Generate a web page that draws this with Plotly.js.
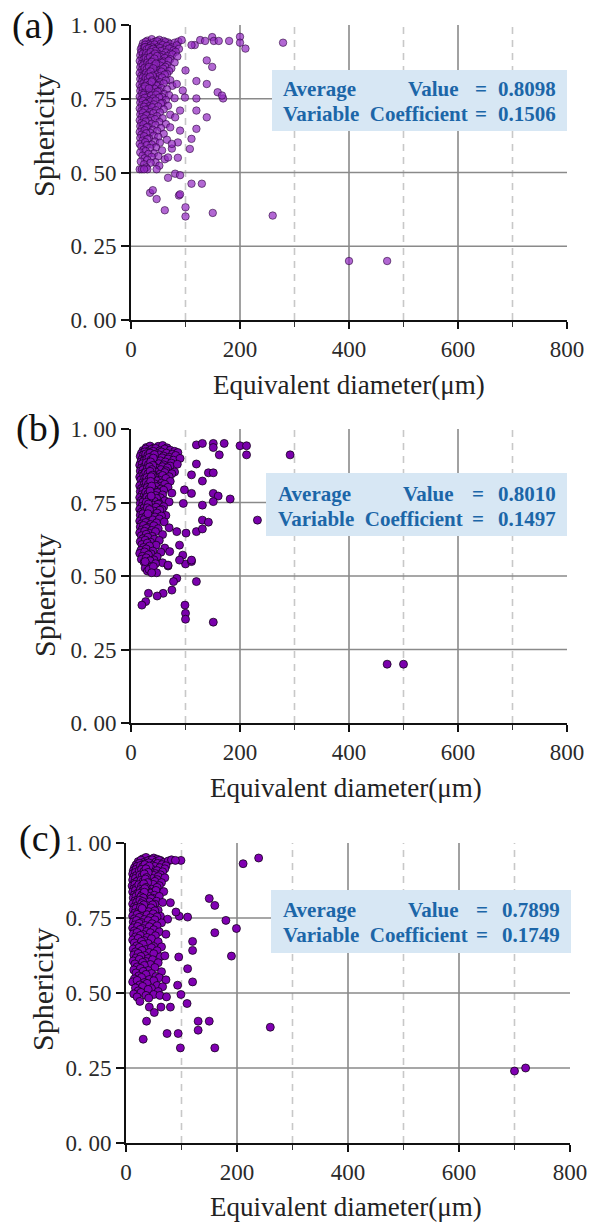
<!DOCTYPE html>
<html>
<head>
<meta charset="utf-8">
<script src="https://cdn.plot.ly/plotly-3.0.1.min.js"></script>
<style>html,body{margin:0;padding:0;background:#fff;}#chart{width:590px;height:1227px;}</style>
</head>
<body>
<div id="chart"></div>
<script>
// ---------------- DATA ----------------
const xTickVals = [0, 200, 400, 600, 800];
const xTickText = ["0", "200", "400", "600", "800"];
const yTickVals = [0, 0.25, 0.5, 0.75, 1.0];
const yTickText = ["0. 00", "0. 25", "0. 50", "0. 75", "1. 00"];
const panelLabels = ["(a)", "(b)", "(c)"];
const averageValues = ["0.8098", "0.8010", "0.7899"];
const variableCoefficients = ["0.1506", "0.1497", "0.1749"];

// Panel (a) dense cluster
const aClusterX = [
  30,38,45,52,60,68,
  22,27,33,41,48,55,63,72,80,87,
  20,26,31,36,43,50,58,66,75,84,
  18,24,29,34,39,46,53,61,70,78,88,
  19,25,30,36,42,47,55,64,73,82,
  17,22,28,33,38,44,50,58,67,76,85,
  20,26,31,37,41,48,54,62,72,
  16,23,29,34,40,45,52,60,69,80,
  19,25,31,36,43,50,57,66,
  17,22,28,35,39,46,54,63,74,
  20,26,32,38,44,51,59,70,
  16,23,29,35,41,48,56,66,
  19,25,31,37,44,52,62,
  17,22,28,34,40,47,57,72,
  20,26,32,38,45,53,64,
  16,23,29,36,42,50,60,76,
  19,25,31,39,47,56,
  17,22,28,34,43,52,66,
  20,26,32,40,49,61,
  16,23,30,37,46,57,70,
  19,25,33,41,52,64,80,
  17,22,29,36,45,58,
  20,27,34,42,55,68,
  16,24,31,39,50,
  19,26,35,46,60,
  17,22,30,41,53,72,
  20,28,37,48,
  16,24,33,44,58,
  19,27,38,52,
  17,23,31,45,64,
  20,29,40,55,
  16,25,35,48,
  19,28,42,60,
  17,24,33,50,
  21,30,44,66,
  16,26,38,53,
  19,29,46,
  23,35,57,75,
  17,27,42,
  21,32,50,
  25,38,62,
  18,30,45,
  24,36,
  28,52
];
const aClusterY = [
  0.947,0.952,0.944,0.950,0.946,0.941,
  0.938,0.943,0.936,0.941,0.945,0.937,0.942,0.935,0.940,0.944,
  0.927,0.933,0.925,0.931,0.934,0.926,0.932,0.929,0.924,0.931,
  0.918,0.923,0.915,0.921,0.924,0.917,0.922,0.916,0.920,0.914,0.919,
  0.908,0.913,0.905,0.911,0.914,0.906,0.912,0.907,0.903,0.909,
  0.897,0.903,0.895,0.901,0.904,0.896,0.902,0.898,0.894,0.900,0.893,
  0.887,0.893,0.885,0.891,0.894,0.886,0.892,0.888,0.884,
  0.878,0.883,0.875,0.881,0.884,0.877,0.882,0.876,0.879,0.873,
  0.868,0.873,0.865,0.871,0.874,0.866,0.872,0.864,
  0.857,0.863,0.855,0.861,0.864,0.856,0.862,0.858,0.853,
  0.848,0.853,0.845,0.851,0.854,0.846,0.852,0.844,
  0.837,0.843,0.835,0.841,0.844,0.836,0.842,0.834,
  0.828,0.833,0.825,0.831,0.834,0.826,0.832,
  0.817,0.823,0.815,0.821,0.824,0.816,0.822,0.813,
  0.808,0.813,0.805,0.811,0.814,0.806,0.812,
  0.797,0.803,0.795,0.801,0.804,0.796,0.802,0.794,
  0.788,0.793,0.785,0.791,0.794,0.786,
  0.777,0.783,0.775,0.781,0.784,0.776,0.782,
  0.768,0.773,0.765,0.771,0.774,0.766,
  0.757,0.763,0.755,0.761,0.764,0.756,0.762,
  0.748,0.753,0.745,0.751,0.754,0.746,0.752,
  0.737,0.743,0.735,0.741,0.744,0.736,
  0.728,0.733,0.725,0.731,0.734,0.726,
  0.717,0.723,0.715,0.721,0.724,
  0.708,0.713,0.705,0.711,0.714,
  0.697,0.703,0.695,0.701,0.704,0.696,
  0.688,0.693,0.685,0.691,
  0.677,0.683,0.675,0.681,0.684,
  0.668,0.673,0.665,0.671,
  0.657,0.663,0.655,0.661,0.664,
  0.648,0.653,0.645,0.651,
  0.637,0.643,0.635,0.641,
  0.628,0.633,0.625,0.631,
  0.617,0.623,0.615,0.621,
  0.608,0.613,0.605,0.611,
  0.597,0.603,0.595,0.601,
  0.588,0.593,0.585,
  0.577,0.583,0.575,0.581,
  0.568,0.573,0.565,
  0.557,0.563,0.555,
  0.548,0.553,0.545,
  0.537,0.543,0.535,
  0.528,0.533,
  0.517,0.523
];
// Panel (a) dense core
const aCoreX = [26,29,33,37,41,45,28,32,36,40,44,48,27,31,35,39,43,30,34,38,42,46,25,29,33,37,41,28,32,36,40,27,31,35,39,30,34,38,26,33];
const aCoreY = [0.925,0.918,0.921,0.915,0.919,0.912,0.905,0.901,0.908,0.897,0.903,0.895,0.888,0.884,0.891,0.879,0.886,0.872,0.868,0.875,0.862,0.869,0.855,0.851,0.858,0.846,0.853,0.838,0.834,0.842,0.828,0.821,0.817,0.825,0.812,0.805,0.798,0.808,0.792,0.785];
// Panel (a) scattered points
const aOutX = [93,117,127,136,149,152,161,180,200,200,210,279,111,139,149,100,120,139,159,169,167,120,120,139,120,90,111,99,95,84,90,81,72,86,75,68,108,86,16,47,81,90,68,111,130,35,40,47,88,62,100,100,150,260,400,470,90,20,30,24];
const aOutY = [0.949,0.932,0.949,0.946,0.959,0.946,0.946,0.946,0.96,0.94,0.92,0.94,0.932,0.88,0.858,0.846,0.81,0.80,0.772,0.751,0.761,0.751,0.71,0.687,0.648,0.642,0.614,0.754,0.778,0.80,0.71,0.687,0.653,0.602,0.597,0.551,0.58,0.55,0.511,0.511,0.496,0.491,0.482,0.462,0.462,0.431,0.44,0.41,0.422,0.372,0.382,0.351,0.363,0.354,0.20,0.20,0.426,0.511,0.511,0.511];

// Panel (b) dense cluster
const bClusterX = [
  28,35,42,50,58,66,
  22,27,32,38,45,53,62,72,80,
  19,25,30,36,41,48,56,65,76,86,
  17,23,28,34,39,44,52,60,70,82,
  20,26,31,37,42,49,57,68,78,90,
  18,24,29,35,40,46,54,63,74,
  16,21,27,33,38,44,51,60,72,85,
  19,25,30,36,42,49,58,67,
  17,22,28,34,40,47,55,64,80,
  20,26,32,38,45,53,62,75,
  16,23,29,35,41,49,58,70,
  18,25,31,37,44,52,64,
  21,27,33,39,47,56,72,
  16,24,30,36,43,51,62,
  19,26,32,38,46,55,68,
  17,22,29,35,42,50,60,
  20,27,33,40,48,58,75,
  16,24,30,37,45,54,
  19,26,32,39,47,62,
  17,22,29,35,43,52,70,
  20,27,34,41,50,60,
  16,24,31,38,46,57,
  19,26,33,42,53,
  17,22,29,37,48,64,
  20,27,35,44,56,
  16,24,31,40,52,
  19,27,36,47,61,
  17,23,31,42,
  20,28,38,50,70,
  16,25,34,45,
  19,28,39,58,
  22,31,43,
  17,26,36,52,
  20,30,46,
  23,34,62,
  18,28,40,
  16,25,37,55,
  21,32,48,
  19,28,42,
  24,35,58,
  30,45,
  26,38,
  30,33
];
const bClusterY = [
  0.937,0.942,0.935,0.941,0.944,0.936,
  0.927,0.932,0.925,0.931,0.934,0.926,0.932,0.928,0.924,
  0.917,0.922,0.915,0.921,0.924,0.916,0.922,0.918,0.914,0.920,
  0.907,0.912,0.905,0.911,0.914,0.906,0.912,0.908,0.904,0.910,
  0.897,0.902,0.895,0.901,0.904,0.896,0.902,0.898,0.894,0.900,
  0.887,0.892,0.885,0.891,0.894,0.886,0.892,0.888,0.884,
  0.877,0.882,0.875,0.881,0.884,0.876,0.882,0.878,0.874,0.880,
  0.867,0.872,0.865,0.871,0.874,0.866,0.872,0.868,
  0.857,0.862,0.855,0.861,0.864,0.856,0.862,0.858,0.854,
  0.847,0.852,0.845,0.851,0.854,0.846,0.852,0.848,
  0.837,0.842,0.835,0.841,0.844,0.836,0.842,0.838,
  0.827,0.832,0.825,0.831,0.834,0.826,0.832,
  0.817,0.822,0.815,0.821,0.824,0.816,0.822,
  0.807,0.812,0.805,0.811,0.814,0.806,0.812,
  0.797,0.802,0.795,0.801,0.804,0.796,0.802,
  0.787,0.792,0.785,0.791,0.794,0.786,0.792,
  0.777,0.782,0.775,0.781,0.784,0.776,0.782,
  0.767,0.772,0.765,0.771,0.774,0.766,
  0.757,0.762,0.755,0.761,0.764,0.756,
  0.747,0.752,0.745,0.751,0.754,0.746,0.752,
  0.737,0.742,0.735,0.741,0.744,0.736,
  0.727,0.732,0.725,0.731,0.734,0.726,
  0.717,0.722,0.715,0.721,0.724,
  0.707,0.712,0.705,0.711,0.714,0.706,
  0.697,0.702,0.695,0.701,0.704,
  0.687,0.692,0.685,0.691,0.694,
  0.677,0.682,0.675,0.681,0.684,
  0.667,0.672,0.665,0.671,
  0.657,0.662,0.655,0.661,0.664,
  0.647,0.652,0.645,0.651,
  0.637,0.642,0.635,0.641,
  0.627,0.632,0.625,
  0.617,0.622,0.615,0.621,
  0.607,0.612,0.605,
  0.597,0.602,0.595,
  0.587,0.592,0.585,
  0.577,0.582,0.575,0.581,
  0.567,0.572,0.565,
  0.557,0.562,0.555,
  0.547,0.552,0.545,
  0.537,0.542,
  0.527,0.532,
  0.517,0.522
];
// Panel (b) dense core
const bCoreX = [27,31,35,39,43,29,33,37,41,28,32,36,40,30,34,38,27,31,35,39,29,33,37,28,32,36,30,34,38,27,31,35,29,33,37,28,32,30,34,31];
const bCoreY = [0.915,0.911,0.918,0.907,0.913,0.898,0.903,0.895,0.901,0.885,0.879,0.888,0.876,0.866,0.871,0.862,0.852,0.848,0.856,0.843,0.835,0.829,0.838,0.818,0.812,0.822,0.801,0.796,0.806,0.785,0.779,0.789,0.768,0.762,0.772,0.751,0.745,0.732,0.726,0.712];
// Panel (b) scattered points
const bOutX = [120,131,151,151,171,200,212,212,162,292,120,111,142,151,131,111,151,160,182,131,151,232,131,142,120,131,101,98,96,100,111,120,84,78,75,59,48,32,27,20,99,100,100,151,41,47,38,68,26,84,89,95,111,71,89,68,470,500];
const bOutY = [0.946,0.951,0.951,0.937,0.951,0.943,0.943,0.912,0.912,0.912,0.881,0.844,0.851,0.851,0.823,0.781,0.781,0.772,0.762,0.741,0.753,0.69,0.69,0.683,0.651,0.66,0.646,0.793,0.747,0.541,0.549,0.481,0.492,0.481,0.452,0.441,0.432,0.441,0.413,0.401,0.401,0.373,0.353,0.343,0.532,0.511,0.511,0.534,0.549,0.651,0.605,0.571,0.554,0.583,0.554,0.537,0.20,0.20];

// Panel (c) dense cluster
const cClusterX = [
  30,36,44,50,56,62,
  22,27,33,40,47,54,60,68,76,82,
  18,24,29,35,41,48,57,65,72,
  15,20,26,31,37,44,52,61,70,
  13,18,23,28,34,40,47,56,66,
  12,17,22,27,32,38,45,53,62,
  14,19,24,29,35,42,50,58,70,
  12,17,22,27,33,39,47,56,
  15,20,25,31,37,44,52,64,
  11,16,22,28,34,41,49,60,
  14,19,25,31,38,46,56,
  12,17,23,29,36,44,54,68,
  15,21,27,34,42,51,
  13,18,24,31,39,48,60,
  16,22,28,36,45,55,
  12,19,25,33,42,52,66,
  15,21,29,38,48,
  13,18,26,35,45,58,
  16,23,31,41,52,
  12,20,28,38,49,62,
  15,24,33,44,56,75,
  13,19,28,40,52,
  16,24,35,47,64,
  12,21,30,42,56,
  15,26,37,50,
  13,20,31,44,60,72,
  17,26,38,53,
  12,22,33,46,
  15,28,40,58,
  19,31,50,
  13,24,36,46,64,
  17,29,42,56,
  14,22,34,50,
  18,27,40,62,70,
  13,24,36,48,
  16,30,44,58,
  20,33,52,
  14,26,40,
  18,31,46,64,
  23,36,54,
  15,28,42,60,
  12,20,33,50,72,
  25,38,56,
  17,30,46,66,
  22,40,58,
  14,27,50,
  20,36
];
const cClusterY = [
  0.947,0.952,0.944,0.950,0.946,0.942,
  0.938,0.943,0.936,0.941,0.944,0.937,0.942,0.935,0.940,0.944,
  0.927,0.932,0.925,0.931,0.934,0.926,0.932,0.928,0.924,
  0.917,0.922,0.915,0.921,0.924,0.916,0.922,0.918,0.914,
  0.907,0.912,0.905,0.911,0.914,0.906,0.912,0.908,0.904,
  0.897,0.902,0.895,0.901,0.904,0.896,0.902,0.898,0.894,
  0.887,0.892,0.885,0.891,0.894,0.886,0.892,0.888,0.884,
  0.877,0.882,0.875,0.881,0.884,0.876,0.882,0.878,
  0.867,0.872,0.865,0.871,0.874,0.866,0.872,0.868,
  0.857,0.862,0.855,0.861,0.864,0.856,0.862,0.858,
  0.847,0.852,0.845,0.851,0.854,0.846,0.852,
  0.837,0.842,0.835,0.841,0.844,0.836,0.842,0.838,
  0.827,0.832,0.825,0.831,0.834,0.826,
  0.817,0.822,0.815,0.821,0.824,0.816,0.822,
  0.807,0.812,0.805,0.811,0.814,0.806,
  0.797,0.802,0.795,0.801,0.804,0.796,0.802,
  0.787,0.792,0.785,0.791,0.794,
  0.777,0.782,0.775,0.781,0.784,0.776,
  0.767,0.772,0.765,0.771,0.774,
  0.757,0.762,0.755,0.761,0.764,0.756,
  0.747,0.752,0.745,0.751,0.754,0.746,
  0.737,0.742,0.735,0.741,0.744,
  0.727,0.732,0.725,0.731,0.734,
  0.717,0.722,0.715,0.721,0.724,
  0.707,0.712,0.705,0.711,
  0.697,0.702,0.695,0.701,0.704,0.696,
  0.687,0.692,0.685,0.691,
  0.677,0.682,0.675,0.681,
  0.667,0.672,0.665,0.671,
  0.657,0.662,0.655,
  0.647,0.652,0.645,0.651,0.654,
  0.637,0.642,0.635,0.641,
  0.627,0.632,0.625,0.631,
  0.617,0.622,0.615,0.621,0.624,
  0.607,0.612,0.605,0.611,
  0.597,0.602,0.595,0.601,
  0.587,0.592,0.585,
  0.577,0.582,0.575,
  0.567,0.572,0.565,0.571,
  0.557,0.562,0.555,
  0.547,0.552,0.545,0.551,
  0.537,0.542,0.535,0.541,0.544,
  0.527,0.532,0.525,
  0.517,0.522,0.515,0.521,
  0.507,0.512,0.505,
  0.497,0.502,0.495,
  0.487,0.492
];
// Panel (c) dense core
const cCoreX = [26,30,34,38,42,24,28,32,36,40,25,29,33,37,27,31,35,39,23,28,32,36,26,30,34,24,29,33,27,31,25,30,28,32,26,29];
const cCoreY = [0.925,0.921,0.928,0.917,0.923,0.908,0.912,0.905,0.914,0.902,0.893,0.889,0.897,0.885,0.876,0.872,0.880,0.868,0.861,0.857,0.864,0.852,0.845,0.841,0.848,0.832,0.828,0.836,0.821,0.817,0.809,0.805,0.798,0.794,0.786,0.782];
// Panel (c) scattered points
const cOutX = [211,239,150,160,180,199,160,190,120,120,111,96,90,80,95,111,120,99,89,93,25,41,61,73,99,110,42,63,80,51,37,130,150,130,31,74,94,98,160,260,700,720];
const cOutY = [0.931,0.95,0.815,0.792,0.742,0.715,0.701,0.623,0.672,0.642,0.753,0.756,0.77,0.801,0.62,0.581,0.537,0.942,0.942,0.526,0.472,0.483,0.492,0.487,0.495,0.465,0.453,0.453,0.453,0.435,0.406,0.406,0.406,0.376,0.346,0.365,0.365,0.317,0.317,0.386,0.24,0.25];

// ---------------- LAYOUT HELPERS ----------------
const W = 590, H = 1227;
const px = v => v / W;
const py = v => 1 - v / H;

// pixel boxes of the three plot areas [left, right, top, bottom]
const plotBoxes = [
  [131, 567, 25, 320],
  [131, 567, 429, 723],
  [126, 570, 843, 1143]
];
const SERIF = "Liberation Serif, Times New Roman, serif";

const markerStyles = [
  {color: 'rgba(145,38,192,0.70)', size: 7.5, line: {color: 'rgba(35,0,50,0.75)', width: 0.75}},
  {color: 'rgb(122,0,172)', size: 8, line: {color: 'rgba(15,0,20,0.95)', width: 0.8}},
  {color: 'rgb(128,0,178)', size: 8, line: {color: 'rgba(15,0,20,0.95)', width: 0.8}}
];

const panelData = [
  [aClusterX.concat(aCoreX, aOutX), aClusterY.concat(aCoreY, aOutY)],
  [bClusterX.concat(bCoreX, bOutX), bClusterY.concat(bCoreY, bOutY)],
  [cClusterX.concat(cCoreX, cOutX), cClusterY.concat(cCoreY, cOutY)]
];

const traces = [];
const layout = {
  width: W, height: H,
  margin: {l: 0, r: 0, t: 0, b: 0},
  paper_bgcolor: '#ffffff',
  plot_bgcolor: 'rgba(0,0,0,0)',
  showlegend: false,
  font: {family: SERIF, color: '#222'},
  shapes: [],
  annotations: []
};

// box geometry: [left, right, top, bottom, line1Y, line2Y, textLeft, valueRight, eqX]
const infoBoxes = [
  [272, 567, 70, 131, 89, 114, 281, 461, 481],
  [266, 567, 473, 536, 494, 519, 276, 456, 478],
  [271, 571, 890, 953, 910, 935, 281, 461, 482]
];
const labelPos = [[33, 25], [38, 428], [40, 838]];
const yTitlePos = [[44, 136], [44, 596], [42, 990]];
const xTitlePos = [[349, 385], [346, 788], [346, 1207]];

for (let i = 0; i < 3; i++) {
  const n = i === 0 ? '' : String(i + 1);
  const xa = 'xaxis' + n, ya = 'yaxis' + n;
  const xr = 'x' + n, yr = 'y' + n;
  const [L, R, T, B] = plotBoxes[i];

  traces.push({
    type: 'scatter', mode: 'markers',
    x: panelData[i][0], y: panelData[i][1],
    xaxis: xr, yaxis: yr,
    marker: markerStyles[i],
    cliponaxis: false,
    hoverinfo: 'x+y'
  });

  layout[xa] = {
    domain: [px(L), px(R)], anchor: yr,
    range: [0, 800], fixedrange: true,
    tickmode: 'array', tickvals: xTickVals, ticktext: xTickText,
    ticks: 'outside', ticklen: 7, tickwidth: 2, tickcolor: '#111',
    showline: true, linecolor: '#111', linewidth: 2,
    showgrid: false, zeroline: false,
    tickfont: {family: SERIF, size: 23, color: '#2a2a2a'},
    minor: {tickvals: [100, 300, 500, 700], ticks: 'outside', ticklen: 5, tickwidth: 1.5, tickcolor: '#333', showgrid: false}
  };
  layout[ya] = {
    domain: [py(B), py(T)], anchor: xr,
    range: [0, 1], fixedrange: true,
    tickmode: 'array', tickvals: yTickVals, ticktext: yTickText,
    ticks: 'outside', ticklen: 8, tickwidth: 2, tickcolor: '#111',
    showline: true, linecolor: '#111', linewidth: 2,
    showgrid: false, zeroline: false,
    tickfont: {family: SERIF, size: 23, color: '#2a2a2a'}
  };

  // gridlines
  [200, 400, 600].forEach(v => layout.shapes.push({
    type: 'line', layer: 'below', xref: xr, yref: yr + ' domain',
    x0: v, x1: v, y0: 0, y1: 1, line: {color: '#8a8a8a', width: 1.6}
  }));
  [100, 300, 500, 700].forEach(v => layout.shapes.push({
    type: 'line', layer: 'below', xref: xr, yref: yr + ' domain',
    x0: v, x1: v, y0: 0, y1: 1, line: {color: '#c8c8c8', width: 1.6, dash: '7px,6px'}
  }));
  [0.25, 0.5, 0.75].forEach(v => layout.shapes.push({
    type: 'line', layer: 'below', xref: xr + ' domain', yref: yr,
    x0: 0, x1: 1, y0: v, y1: v, line: {color: '#8a8a8a', width: 1.6}
  }));

  // info box
  const bx = infoBoxes[i];
  layout.shapes.push({
    type: 'rect', layer: 'above', xref: 'paper', yref: 'paper',
    x0: px(bx[0]), x1: px(bx[1]), y0: py(bx[3]), y1: py(bx[2]),
    fillcolor: '#d7e7f4', line: {width: 0}
  });
  const boxFont = {family: SERIF, size: 21, color: '#1c66a8'};
  const addText = (text, x, y, xanchor) => layout.annotations.push({
    text: '<b>' + text + '</b>', xref: 'paper', yref: 'paper',
    x: px(x), y: py(y), xanchor: xanchor, yanchor: 'middle',
    showarrow: false, font: boxFont
  });
  addText('Average', bx[6], bx[4], 'left');
  addText('Value', bx[7], bx[4], 'right');
  addText('=', bx[8], bx[4], 'center');
  addText(averageValues[i], bx[1] - 9, bx[4], 'right');
  addText('Variable  Coefficient', bx[6], bx[5], 'left');
  addText('=', bx[8], bx[5], 'center');
  addText(variableCoefficients[i], bx[1] - 9, bx[5], 'right');

  // panel label
  layout.annotations.push({
    text: panelLabels[i], xref: 'paper', yref: 'paper',
    x: px(labelPos[i][0]), y: py(labelPos[i][1]), xanchor: 'center', yanchor: 'middle',
    showarrow: false, font: {family: SERIF, size: 38, color: '#111'}
  });
  // y title
  layout.annotations.push({
    text: 'Sphericity', xref: 'paper', yref: 'paper', textangle: -90,
    x: px(yTitlePos[i][0]), y: py(yTitlePos[i][1]), xanchor: 'center', yanchor: 'middle',
    showarrow: false, font: {family: SERIF, size: 30, color: '#222'}
  });
  // x title
  layout.annotations.push({
    text: 'Equivalent diameter(μm)', xref: 'paper', yref: 'paper',
    x: px(xTitlePos[i][0]), y: py(xTitlePos[i][1]), xanchor: 'center', yanchor: 'middle',
    showarrow: false, font: {family: SERIF, size: 27, color: '#222'}
  });
}

Plotly.newPlot('chart', traces, layout, {displayModeBar: false, staticPlot: true});
</script>
</body>
</html>
